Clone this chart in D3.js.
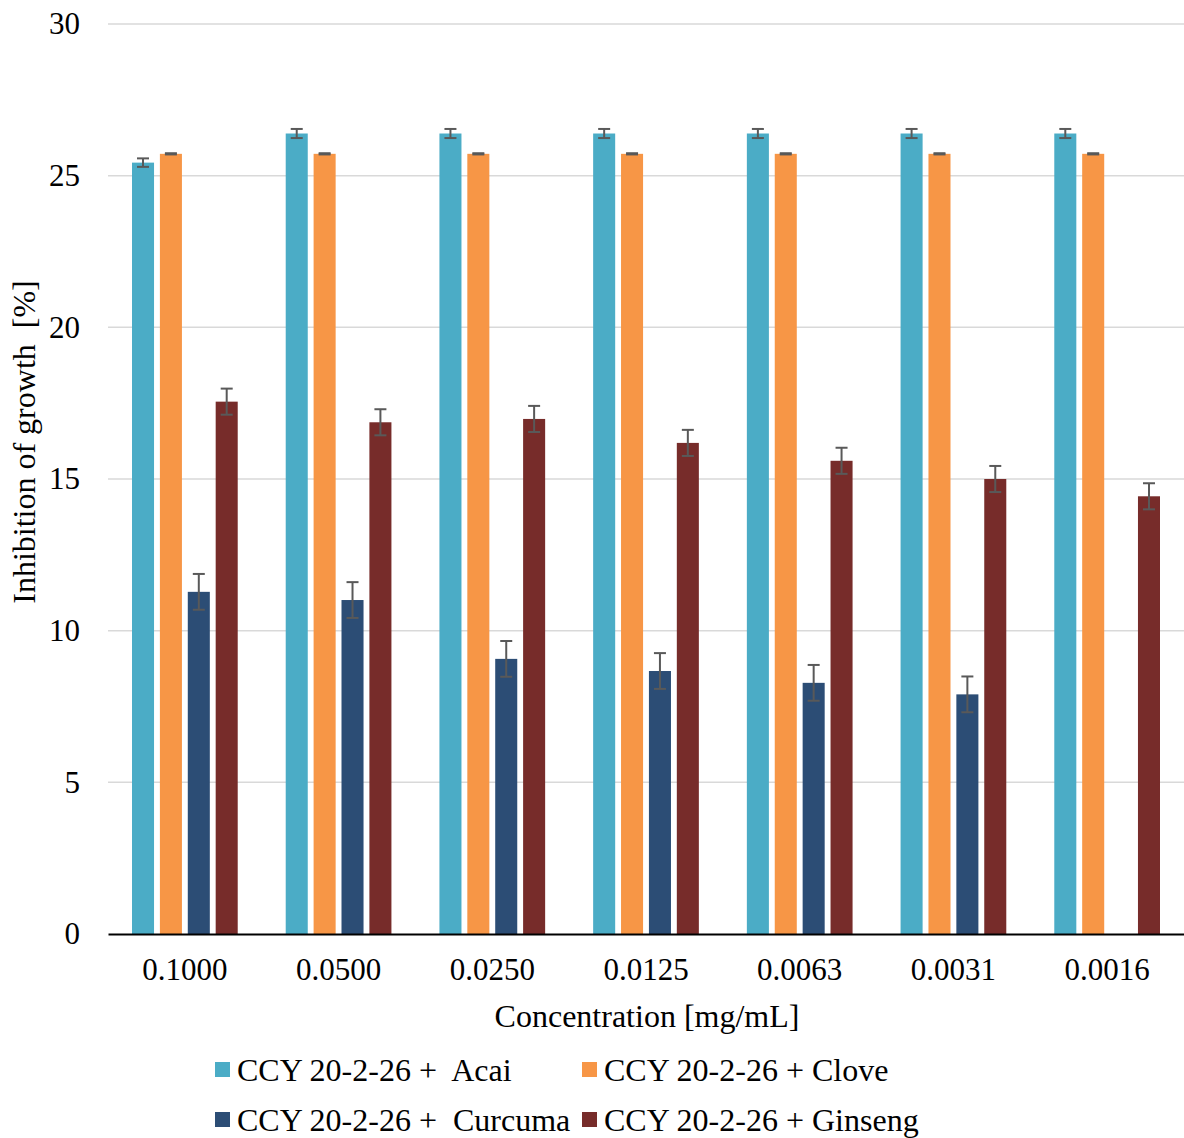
<!DOCTYPE html>
<html>
<head>
<meta charset="utf-8">
<script src="https://cdn.jsdelivr.net/npm/d3@7"></script>
<style>
  body { margin: 0; background: #fff; }
  svg text { font-family: "Liberation Serif", "Times New Roman", serif !important; fill: #000; white-space: pre; }
  .grid line { stroke: #d9d9d9; stroke-width: 1.5; }
</style>
</head>
<body>
<svg id="chart" width="1184" height="1138"></svg>
<script>
var concentrations = ["0.1000", "0.0500", "0.0250", "0.0125", "0.0063", "0.0031", "0.0016"];
var seriesNames = ["CCY 20-2-26 +  Acai", "CCY 20-2-26 + Clove", "CCY 20-2-26 +  Curcuma", "CCY 20-2-26 + Ginseng"];
var colors = ["#4bacc6", "#f79646", "#2c4d75", "#772c2a"];

var acai = [25.43, 26.39, 26.39, 26.39, 26.39, 26.39, 26.39];
var acaiErr = [0.14, 0.15, 0.15, 0.15, 0.15, 0.15, 0.15];
var clove = [25.72, 25.72, 25.72, 25.72, 25.72, 25.72, 25.72];
var cloveErr = [0.02, 0.02, 0.02, 0.02, 0.02, 0.02, 0.02];
var curcuma = [11.28, 11.01, 9.07, 8.67, 8.28, 7.9, 0];
var curcumaErr = [0.59, 0.59, 0.59, 0.59, 0.59, 0.59, 0];
var ginseng = [17.55, 16.87, 16.98, 16.19, 15.6, 15.0, 14.43];
var ginsengErr = [0.43, 0.43, 0.43, 0.43, 0.43, 0.43, 0.43];

var yTicks = [0, 5, 10, 15, 20, 25, 30];

var values = [acai, clove, curcuma, ginseng];
var errors = [acaiErr, cloveErr, curcumaErr, ginsengErr];

var svg = d3.select("#chart"),
    margin = {top: 24, right: 0, bottom: 204, left: 108},
    width = 1184 - margin.left - margin.right,
    height = 1138 - margin.top - margin.bottom;

var x = d3.scaleBand().domain(concentrations).range([0, width]).paddingInner(0).paddingOuter(0);
var x1 = d3.scaleBand().domain(d3.range(4)).range([24, x.bandwidth() - 24]).paddingInner(0.21).paddingOuter(0);
var y = d3.scaleLinear().domain([0, 30]).range([height, 0]);

var g = svg.append("g").attr("transform", "translate(" + margin.left + "," + margin.top + ")");

// gridlines
g.append("g").attr("class", "grid")
  .selectAll("line").data(yTicks.filter(function(d) { return d > 0; }))
  .enter().append("line")
    .attr("x1", 0).attr("x2", width)
    .attr("y1", function(d) { return y(d); })
    .attr("y2", function(d) { return y(d); });

// y tick labels
var yAxis = g.append("g").call(d3.axisLeft(y).tickValues(yTicks).tickSize(0).tickPadding(28));
yAxis.attr("font-family", "Liberation Serif").attr("font-size", 31);
yAxis.select(".domain").remove();

// bars
var rows = [];
concentrations.forEach(function(c, i) {
  values.forEach(function(s, k) {
    rows.push({c: c, k: k, v: s[i], e: errors[k][i]});
  });
});

var groups = g.selectAll(".bar").data(rows.filter(function(d) { return d.v > 0; }))
  .enter().append("g").attr("class", "bar");

groups.append("rect")
  .attr("x", function(d) { return x(d.c) + x1(d.k); })
  .attr("width", x1.bandwidth())
  .attr("y", function(d) { return y(d.v); })
  .attr("height", function(d) { return height - y(d.v); })
  .attr("fill", function(d) { return colors[d.k]; });

// error bars
var eb = groups.append("g").attr("stroke", "#595959").attr("stroke-width", 2);
eb.append("line")
  .attr("x1", function(d) { return x(d.c) + x1(d.k) + x1.bandwidth() / 2; })
  .attr("x2", function(d) { return x(d.c) + x1(d.k) + x1.bandwidth() / 2; })
  .attr("y1", function(d) { return y(d.v + d.e); })
  .attr("y2", function(d) { return y(d.v - d.e); });
eb.selectAll(".cap").data(function(d) { return [d.v + d.e, d.v - d.e].map(function(v) { return {d: d, v: v}; }); })
  .enter().append("line").attr("class", "cap")
  .attr("x1", function(p) { return x(p.d.c) + x1(p.d.k) + x1.bandwidth() / 2 - 6; })
  .attr("x2", function(p) { return x(p.d.c) + x1(p.d.k) + x1.bandwidth() / 2 + 6; })
  .attr("y1", function(p) { return y(p.v); })
  .attr("y2", function(p) { return y(p.v); });

// x axis
var xAxis = g.append("g")
  .attr("transform", "translate(0," + height + ")")
  .call(d3.axisBottom(x).tickSize(0).tickPadding(24));
xAxis.attr("font-family", "Liberation Serif").attr("font-size", 31);
xAxis.select(".domain").attr("stroke", "#000").attr("stroke-width", 2);

// axis titles
svg.append("text")
  .attr("x", margin.left + width / 2 + 1)
  .attr("y", 1027)
  .attr("text-anchor", "middle")
  .style("font-size", "32px")
  .text("Concentration [mg/mL]");

svg.append("text")
  .attr("transform", "translate(35," + 442 + ") rotate(-90)")
  .attr("text-anchor", "middle")
  .style("font-size", "32px")
  .text("Inhibition of growth  [%]");

// legend
var legendPos = [[215, 1070], [582, 1070], [215, 1120], [582, 1120]];
var legend = svg.selectAll(".legend").data(seriesNames)
  .enter().append("g").attr("class", "legend")
  .attr("transform", function(d, i) { return "translate(" + legendPos[i][0] + "," + legendPos[i][1] + ")"; });
legend.append("rect")
  .attr("x", 0).attr("y", -8).attr("width", 15).attr("height", 15)
  .attr("fill", function(d, i) { return colors[i]; });
legend.append("text")
  .attr("x", 22).attr("y", 11)
  .style("font-size", "32px")
  .text(function(d) { return d; });
</script>
</body>
</html>
